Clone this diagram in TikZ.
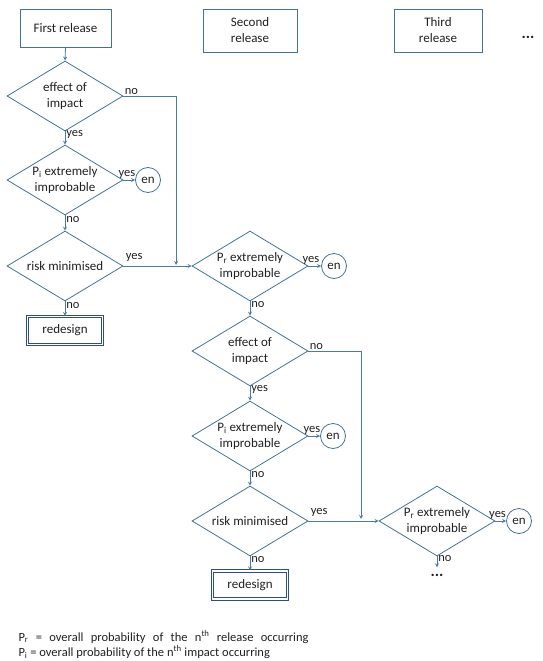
\documentclass[tikz,border=0pt]{standalone}
\usepackage{fontspec}
\setmainfont{Carlito}
\usepackage{xcolor}
\usetikzlibrary{arrows.meta,shapes.geometric,positioning}
\definecolor{lineblue}{HTML}{4A78A8}
\definecolor{boxblue}{HTML}{41719C}
\definecolor{darkblue}{HTML}{2F4F7F}
\definecolor{txtgray}{HTML}{202020}

\begin{document}
\begin{tikzpicture}[x=1pt, y=-1pt, every node/.style={font=\fontsize{13}{16}\selectfont, text=txtgray},
    release/.style={draw=boxblue, thick, align=center, minimum height=#1, inner sep=2pt},
    dia/.style={diamond, draw=boxblue, thick, minimum width=116pt, minimum height=70pt, inner sep=0pt},
    diatext/.style={align=center},
    endnode/.style={circle, draw=boxblue, thick, minimum size=25pt, inner sep=0pt},
    redesignbox/.style={draw=darkblue, double=white, double distance=1.6pt, line width=1.1pt, minimum width=75pt, minimum height=28pt},
    flow/.style={->, >=stealth, lineblue, thick},
    ann/.style={font=\fontsize{12.5}{14}\selectfont, inner sep=1pt},
    dots/.style={font=\bfseries\fontsize{16}{16}\selectfont, inner sep=0pt}]

\useasboundingbox (0,0) rectangle (543,661);

% Releases
\node[release=38pt, minimum width=91pt] (rel1) at (65.5,28) {First release};
\node[release=43pt, minimum width=94pt] (rel2) at (250,30.5) {Second\\release};
\node[release=43pt, minimum width=88pt] (rel3) at (438,30.5) {Third\\release};
\node[dots] (more1) at (528,37) {...};

% First release column
\node[dia] (eff1) at (65,96) {};
\node[diatext] at (eff1) {effect of\\impact};
\node[dia] (pi1) at (65,180) {};
\node[diatext] at (pi1) {P\textsubscript{i} extremely\\improbable};
\node[endnode] (en1) at (148,180) {en};
\node[dia] (risk1) at (65,266) {};
\node[diatext] at (risk1) {risk minimised};
\node[redesignbox] (red1) at (65,330.5) {redesign};

% Second release column
\node[dia] (pr2) at (250,266) {};
\node[diatext] at (pr2) {P\textsubscript{r} extremely\\improbable};
\node[endnode] (en2) at (334,266) {en};
\node[dia] (eff2) at (250,351) {};
\node[diatext] at (eff2) {effect of\\impact};
\node[dia] (pi2) at (250,436) {};
\node[diatext] at (pi2) {P\textsubscript{i} extremely\\improbable};
\node[endnode] (en3) at (333,436) {en};
\node[dia] (risk2) at (250,521) {};
\node[diatext] at (risk2) {risk minimised};
\node[redesignbox] (red2) at (250,585) {redesign};

% Third release column
\node[dia] (pr3) at (437,521) {};
\node[diatext] at (pr3) {P\textsubscript{r} extremely\\improbable};
\node[endnode] (en4) at (519,521) {en};
\node[dots] (more2) at (437,575) {...};

% Junctions
\coordinate (j1) at (176,265);
\coordinate (j2) at (361,519);

% Arrows: first column
\draw[flow] (rel1.south) -- (eff1.north);
\draw[flow] (eff1.south) -- (pi1.north) node[pos=0.25, right, ann] {yes};
\draw[flow] (pi1.east) -- (en1.west) node[pos=0.3, above, ann] {yes};
\draw[flow] (pi1.south) -- (risk1.north) node[pos=0.25, right, ann] {no};
\draw[flow] (risk1.south) -- (red1.north) node[pos=0.25, right, ann] {no};
\draw[flow] (eff1.east) node[above right, ann] {no} -| (j1);
\draw[flow] (risk1.east) node[above right=3pt and 1pt, ann] {yes} -- (pr2.west);

% Arrows: second column
\draw[flow] (pr2.east) -- (en2.west) node[pos=0.2, above, ann] {yes};
\draw[flow] (pr2.south) -- (eff2.north) node[pos=0.25, right, ann] {no};
\draw[flow] (eff2.south) -- (pi2.north) node[pos=0.25, right, ann] {yes};
\draw[flow] (pi2.east) -- (en3.west) node[pos=0.3, above, ann] {yes};
\draw[flow] (pi2.south) -- (risk2.north) node[pos=0.25, right, ann] {no};
\draw[flow] (risk2.south) -- (red2.north) node[pos=0.25, right, ann] {no};
\draw[flow] (eff2.east) node[above right, ann] {no} -| (j2);
\draw[flow] (risk2.east) node[above right=3pt and 1pt, ann] {yes} -- (pr3.west);

% Arrows: third column
\draw[flow] (pr3.south) -- ++(0,11) coordinate (pr3end) node[pos=0.15, right, ann] {no};
\draw[flow] (pr3.east) -- (en4.west) node[pos=0.2, above, ann] {yes};

% Legend
\node[anchor=west, font=\fontsize{12.5}{14}\selectfont] (leg1) at (15,637) {\makebox[290pt][s]{P\textsubscript{r} = overall probability of the n\textsuperscript{th} release occurring}};
\node[anchor=west, font=\fontsize{12.5}{14}\selectfont] (leg2) at (15,652) {P\textsubscript{i} = overall probability of the n\textsuperscript{th} impact occurring};

\end{tikzpicture}
\end{document}
